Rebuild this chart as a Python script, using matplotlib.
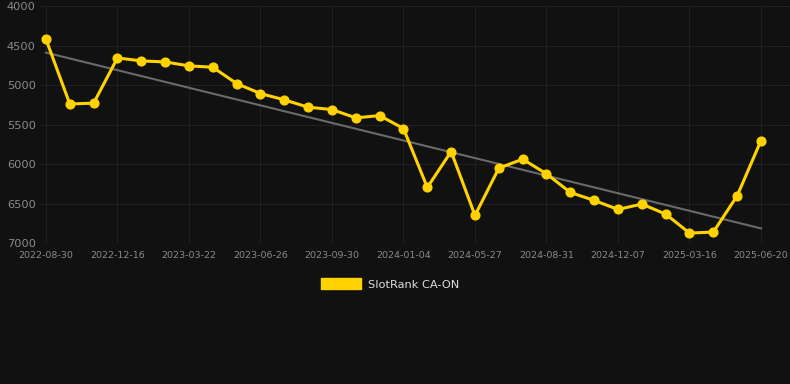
import numpy as np
import matplotlib
matplotlib.use('Agg')
import matplotlib.pyplot as plt
import matplotlib.patches as mpatches

# rank values, one point per sample (category axis)
ranks = [4420, 5240, 5230, 4657, 4695, 4708, 4758, 4775, 4982, 5108,
         5188, 5281, 5311, 5416, 5387, 5551, 6297, 5842, 6651, 6053,
         5939, 6124, 6360, 6461, 6575, 6507, 6634, 6874, 6862, 6403,
         5703]
# labels shown on every third point
tick_labels = ['2022-08-30', '2022-12-16', '2023-03-22', '2023-06-26',
               '2023-09-30', '2024-01-04', '2024-05-27', '2024-08-31',
               '2024-12-07', '2025-03-16', '2025-06-20']
# trend line values at first and last point
trend = [4590, 6815]
series_name = 'SlotRank CA-ON'

bg = '#111111'
gold = '#ffd200'

fig = plt.figure(figsize=(7.9, 3.84), dpi=100, facecolor=bg)
ax = fig.add_axes([40/790, 1-243/384, 750/790, 237/384])
ax.set_facecolor(bg)

x = np.arange(len(ranks))

ax.plot([x[0], x[-1]], trend, color='#6a6a6a', lw=1.5, zorder=2)
ax.plot(x, ranks, color=gold, lw=2.2, marker='o', markersize=6.3,
        markerfacecolor=gold, markeredgecolor=gold, zorder=3)

ax.set_ylim(7000, 4000)
ax.set_yticks([4000, 4500, 5000, 5500, 6000, 6500, 7000])
ax.set_xlim(-0.25, 30 + (790-761)/23.83)
ax.set_xticks(x[::3])
ax.set_xticklabels(tick_labels)

ax.grid(True, color='#202020', lw=0.8)
ax.set_axisbelow(True)
for s in ax.spines.values():
    s.set_visible(False)
ax.tick_params(axis='y', length=0, pad=3, labelsize=8.2, labelcolor='#8a8a8a')
ax.tick_params(axis='x', length=0, pad=6, labelsize=6.8, labelcolor='#8a8a8a')

handle = mpatches.Patch(facecolor=gold, edgecolor=gold, label=series_name)
fig.legend(handles=[handle], loc='center', bbox_to_anchor=(390/790, 1-284/384),
           frameon=False, fontsize=8.2, handlelength=3.5, handleheight=1.1,
           handletextpad=0.6, labelcolor='#dddddd')

fig.savefig('out.png', dpi=100, facecolor=bg)
